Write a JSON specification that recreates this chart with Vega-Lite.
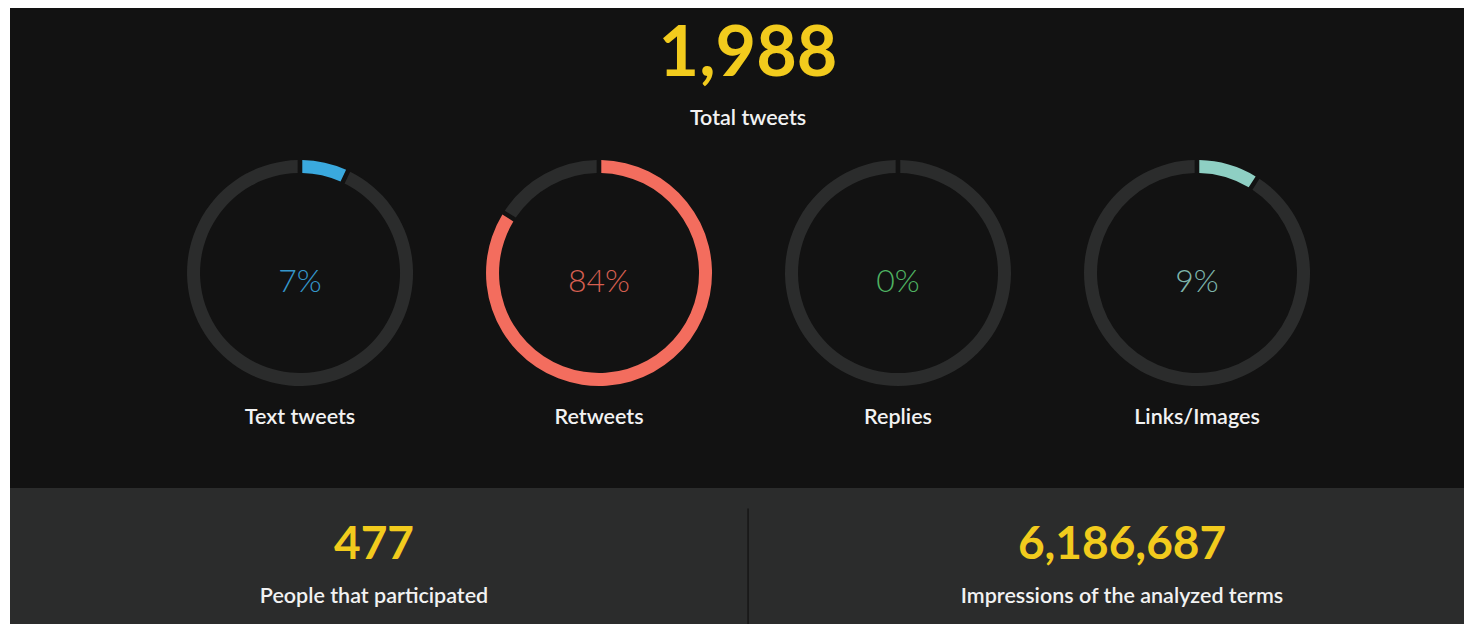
{
  "$schema": "https://vega.github.io/schema/vega-lite/v6.json",
  "background": "#ffffff",
  "padding": {"left": 10, "top": 8, "right": 0, "bottom": 0},
  "spacing": 0,
  "config": {"view": {"stroke": null}, "concat": {"spacing": 0}},
  "datasets": {
    "total": [{"metric": "Total tweets", "value": 1988}],
    "tweets": [
      {"category": "Text tweets", "segment": "share", "share": 0.07},
      {"category": "Text tweets", "segment": "rest", "share": 0.93},
      {"category": "Retweets", "segment": "share", "share": 0.84},
      {"category": "Retweets", "segment": "rest", "share": 0.16},
      {"category": "Replies", "segment": "share", "share": 0.0},
      {"category": "Replies", "segment": "rest", "share": 1.0},
      {"category": "Links/Images", "segment": "share", "share": 0.09},
      {"category": "Links/Images", "segment": "rest", "share": 0.91}
    ],
    "reach": [
      {"metric": "People that participated", "value": 477},
      {"metric": "Impressions of the analyzed terms", "value": 6186687}
    ]
  },
  "vconcat": [
    {
      "width": 1454,
      "height": 140,
      "view": {"fill": "#121212", "stroke": null},
      "data": {"name": "total"},
      "layer": [
        {
          "mark": {"type": "text", "font": "Lato", "fontWeight": "bold", "fontSize": 70, "color": "#f2cb1d", "baseline": "middle", "dy": -23, "dx": 11},
          "encoding": {"text": {"field": "value", "type": "quantitative", "format": ","}}
        },
        {
          "mark": {"type": "text", "font": "Lato", "fontWeight": 600, "fontSize": 21.5, "color": "#f2f2f2", "baseline": "middle", "dy": 41, "dx": 11},
          "encoding": {"text": {"field": "metric", "type": "nominal"}}
        }
      ]
    },
    {
      "width": 1454,
      "height": 250,
      "view": {"fill": "#121212", "stroke": null},
      "data": {"name": "tweets"},
      "transform": [
        {"stack": "share", "groupby": ["category"], "sort": [{"field": "segment", "order": "descending"}], "as": ["t0", "t1"]}
      ],
      "layer": [
        {
          "mark": {"type": "arc", "radius": 113, "radius2": 100, "padAngle": 0.03},
          "encoding": {
            "x": {"field": "category", "type": "nominal", "scale": {"type": "point", "domain": ["Text tweets", "Retweets", "Replies", "Links/Images"], "padding": 0.93144, "align": 0.5207}, "axis": null},
            "theta": {"field": "t0", "type": "quantitative", "stack": null, "scale": {"domain": [0, 1], "range": [0, 6.282]}},
            "theta2": {"field": "t1"},
            "color": {
              "condition": {"test": "datum.segment === 'rest'", "value": "#2b2c2c"},
              "field": "category", "type": "nominal",
              "scale": {"domain": ["Text tweets", "Retweets", "Replies", "Links/Images"], "range": ["#3aa9de", "#f36d5e", "#52b564", "#8ecfc3"]},
              "legend": null
            }
          }
        },
        {
          "transform": [{"filter": "datum.segment === 'share'"}],
          "mark": {"type": "text", "font": "Lato", "fontWeight": 300, "fontSize": 32, "baseline": "middle", "dy": 9},
          "encoding": {
            "x": {"field": "category", "type": "nominal", "scale": {"type": "point", "domain": ["Text tweets", "Retweets", "Replies", "Links/Images"], "padding": 0.93144, "align": 0.5207}, "axis": null},
            "text": {"field": "share", "type": "quantitative", "format": ".0%"},
            "color": {
              "field": "category", "type": "nominal",
              "scale": {"domain": ["Text tweets", "Retweets", "Replies", "Links/Images"], "range": ["#3597cb", "#d65f50", "#4fb262", "#7db5ab"]},
              "legend": null
            }
          }
        }
      ],
      "resolve": {"scale": {"color": "independent"}}
    },
    {
      "width": 1454,
      "height": 90,
      "view": {"fill": "#121212", "stroke": null},
      "data": {"name": "tweets"},
      "transform": [{"filter": "datum.segment === 'share'"}],
      "mark": {"type": "text", "font": "Lato", "fontWeight": 600, "fontSize": 21.5, "color": "#f2f2f2", "baseline": "middle", "dy": -25},
      "encoding": {
        "x": {"field": "category", "type": "nominal", "scale": {"type": "point", "domain": ["Text tweets", "Retweets", "Replies", "Links/Images"], "padding": 0.93144, "align": 0.5207}, "axis": null},
        "text": {"field": "category", "type": "nominal"}
      }
    },
    {
      "width": 1454,
      "height": 136,
      "view": {"fill": "#2b2c2c", "stroke": null},
      "data": {"name": "reach"},
      "layer": [
        {
          "transform": [{"filter": "datum.metric === 'Impressions of the analyzed terms'"}],
          "mark": {"type": "rule", "color": "#161616", "strokeWidth": 1.5},
          "encoding": {
            "x": {"field": "metric", "type": "nominal", "bandPosition": 0, "scale": {"type": "band", "domain": ["People that participated", "Impressions of the analyzed terms"], "paddingInner": 0, "paddingOuter": 0.02, "align": 0.888}, "axis": null},
            "y": {"datum": 0, "type": "quantitative", "scale": {"domain": [0, 1], "nice": false, "zero": false}, "axis": null},
            "y2": {"datum": 0.85}
          }
        },
        {
          "mark": {"type": "text", "font": "Lato", "fontWeight": "bold", "fontSize": 46, "color": "#f2cb1d", "baseline": "middle", "dy": -11},
          "encoding": {
            "x": {"field": "metric", "type": "nominal", "scale": {"type": "point", "domain": ["People that participated", "Impressions of the analyzed terms"], "padding": 0.4719, "align": 0.5156}, "axis": null},
            "text": {"field": "value", "type": "quantitative", "format": ","}
          }
        },
        {
          "mark": {"type": "text", "font": "Lato", "fontWeight": 600, "fontSize": 21.5, "color": "#f2f2f2", "baseline": "middle", "dy": 41},
          "encoding": {
            "x": {"field": "metric", "type": "nominal", "scale": {"type": "point", "domain": ["People that participated", "Impressions of the analyzed terms"], "padding": 0.4719, "align": 0.5156}, "axis": null},
            "text": {"field": "metric", "type": "nominal"}
          }
        }
      ],
      "resolve": {"scale": {"x": "independent"}}
    }
  ]
}
